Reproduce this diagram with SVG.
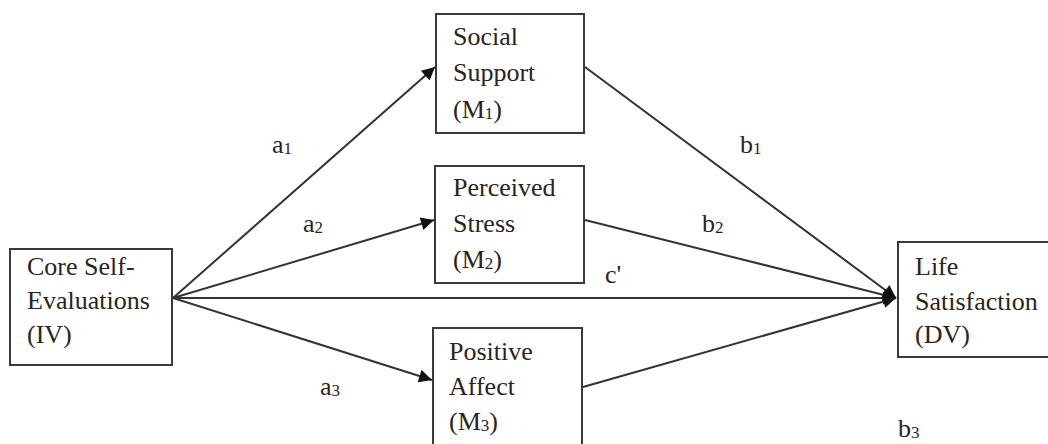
<svg xmlns="http://www.w3.org/2000/svg" width="1048" height="444" viewBox="0 0 1048 444">
<defs>
<style>
.box{fill:#fff;stroke:#3a3a3a;stroke-width:2}
.t{font-family:'Liberation Serif','Times New Roman','DejaVu Serif',serif;font-size:26px;fill:#2a2420}
.s{font-size:17px}
.c{stroke:#333;stroke-width:2;fill:none;marker-end:url(#ah)}
</style>
<marker id="ah" viewBox="0 0 10 10" refX="10" refY="5" markerWidth="8" markerHeight="6.5" markerUnits="strokeWidth" orient="auto">
<path d="M0,0 L10,5 L0,10 z" fill="#111"/>
</marker>
</defs>
<rect width="1048" height="444" fill="#fff"/>
<g id="connectors">
<line class="c" x1="173" y1="298" x2="435" y2="67"/>
<line class="c" x1="173" y1="298" x2="434" y2="220"/>
<line class="c" x1="173" y1="298" x2="896" y2="298"/>
<line class="c" x1="173" y1="298" x2="432" y2="380"/>
<line class="c" x1="585" y1="67" x2="896" y2="298"/>
<line class="c" x1="585" y1="220" x2="896" y2="298"/>
<line class="c" x1="583" y1="387" x2="896" y2="298"/>
<text class="t" x="272" y="153">a<tspan class="s" dy="1">1</tspan></text>
<text class="t" x="303" y="232">a<tspan class="s" dy="1">2</tspan></text>
<text class="t" x="320" y="395">a<tspan class="s" dy="1">3</tspan></text>
<text class="t" x="740" y="153">b<tspan class="s" dy="1">1</tspan></text>
<text class="t" x="702" y="232">b<tspan class="s" dy="1">2</tspan></text>
<text class="t" x="898" y="437">b<tspan class="s" dy="1">3</tspan></text>
<text class="t" x="605" y="283">c'</text>
</g>
<g id="core">
<rect class="box" x="10" y="249" width="162" height="116"/>
<text class="t" x="27" y="275">Core Self-</text>
<text class="t" x="27" y="309">Evaluations</text>
<text class="t" x="27" y="343">(IV)</text>
</g>
<g id="social">
<rect class="box" x="436" y="14" width="148" height="119"/>
<text class="t" x="453" y="45">Social</text>
<text class="t" x="453" y="81">Support</text>
<text class="t" x="453" y="118">(M<tspan class="s" dy="1">1</tspan><tspan dy="-1">)</tspan></text>
</g>
<g id="stress">
<rect class="box" x="435" y="166" width="149" height="117"/>
<text class="t" x="453" y="196">Perceived</text>
<text class="t" x="453" y="232">Stress</text>
<text class="t" x="453" y="268">(M<tspan class="s" dy="1">2</tspan><tspan dy="-1">)</tspan></text>
</g>
<g id="affect">
<rect class="box" x="433" y="328" width="149" height="130"/>
<text class="t" x="449" y="360">Positive</text>
<text class="t" x="449" y="395">Affect</text>
<text class="t" x="449" y="430">(M<tspan class="s" dy="1">3</tspan><tspan dy="-1">)</tspan></text>
</g>
<g id="life">
<rect class="box" x="898" y="242" width="170" height="115"/>
<text class="t" x="915" y="275">Life</text>
<text class="t" x="915" y="310">Satisfaction</text>
<text class="t" x="915" y="343">(DV)</text>
</g>
</svg>
